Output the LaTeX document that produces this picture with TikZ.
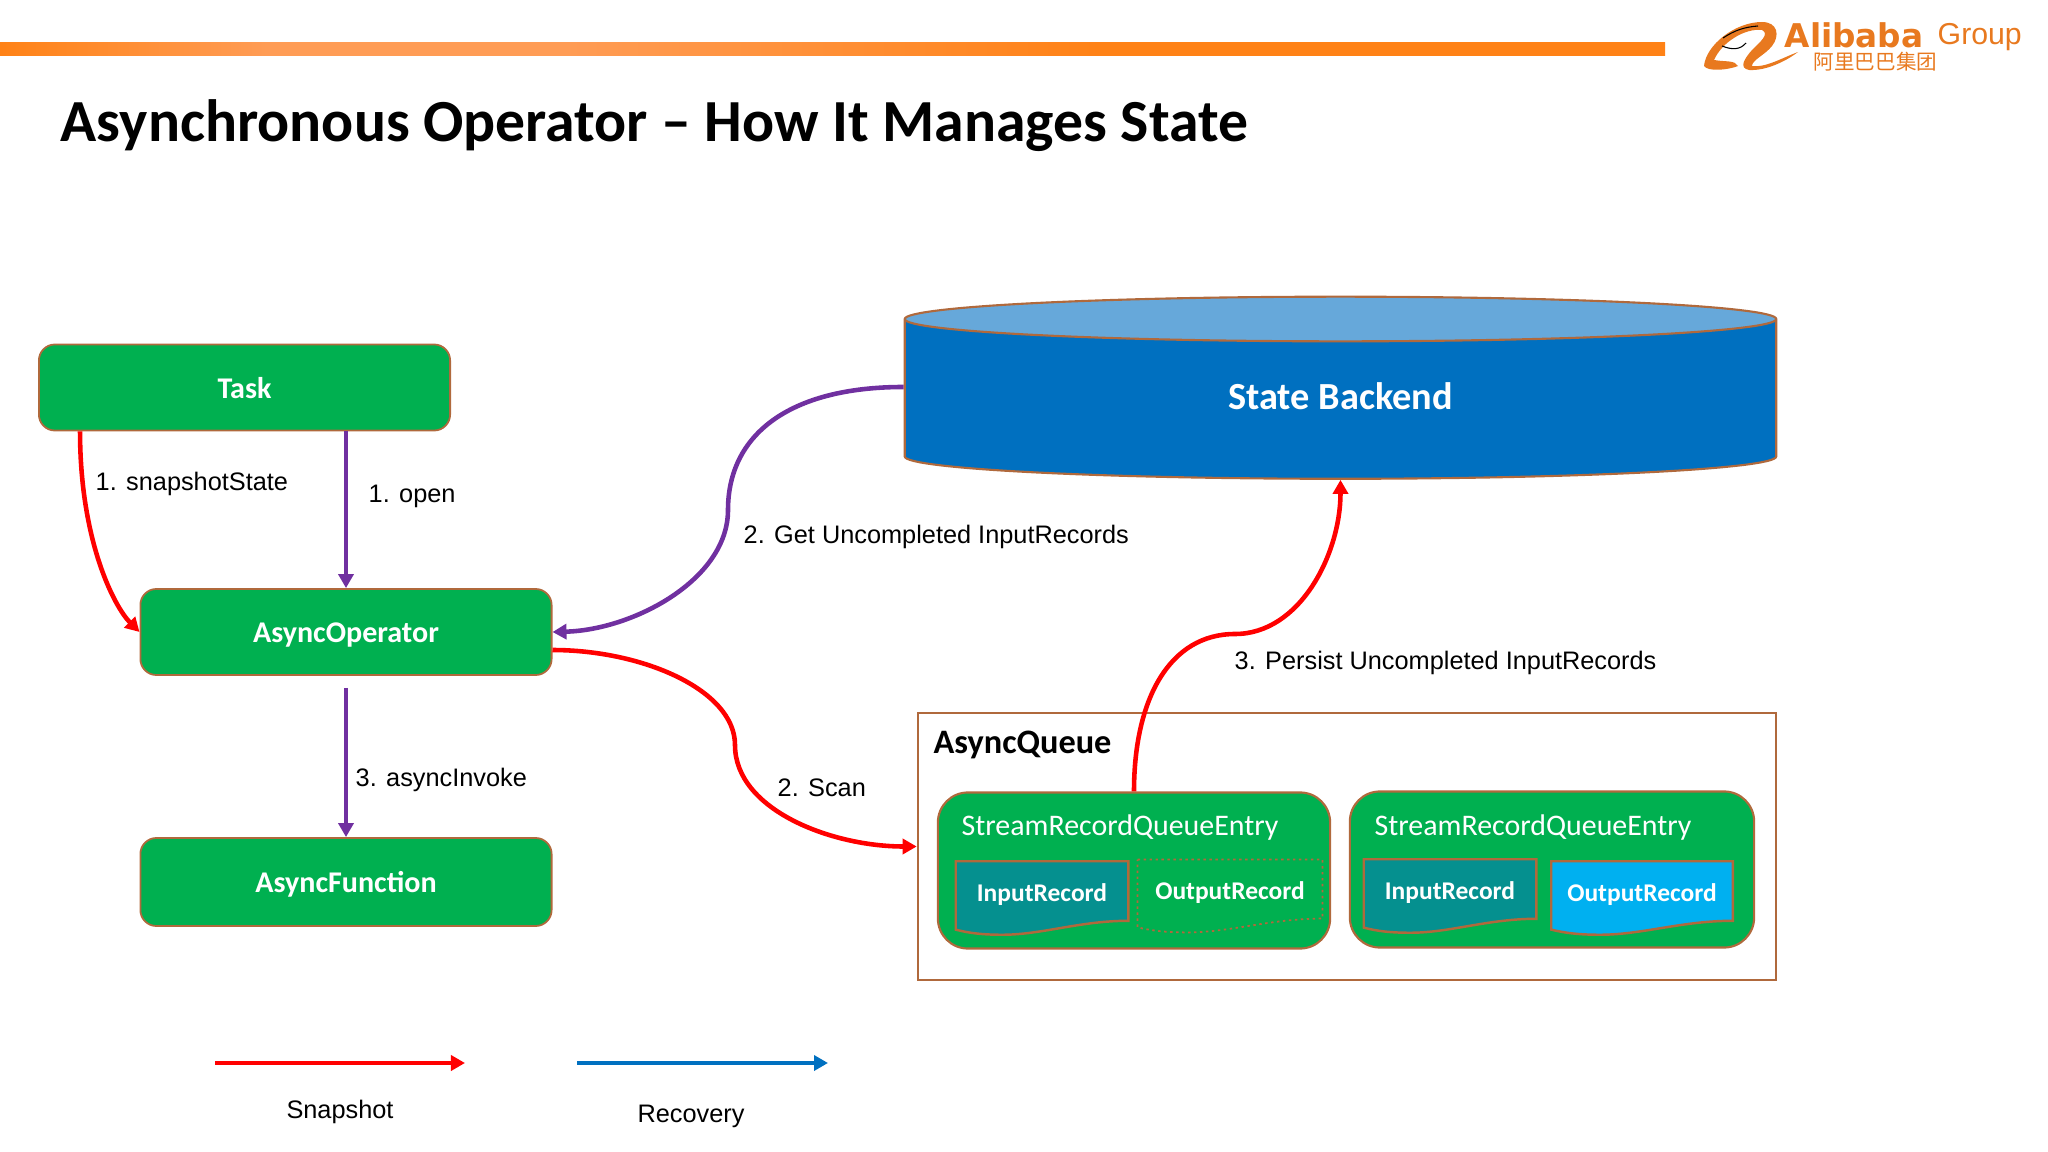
\documentclass[tikz,border=0pt]{standalone}
\usepackage{fontspec}
\setmainfont{Liberation Sans}
\newfontfamily\carlito{Carlito}
\newfontfamily\dejavu{DejaVu Sans}
\newfontfamily\cjk{Noto Sans CJK SC}
\usetikzlibrary{shapes.geometric, arrows.meta}
\definecolor{boxgreen}{HTML}{00B050}
\definecolor{boxedge}{HTML}{B0693C}
\definecolor{recteal}{HTML}{05908F}
\definecolor{recblue}{HTML}{00B0F0}
\definecolor{dbblue}{HTML}{0070C0}
\definecolor{dbtop}{HTML}{66A8DA}
\definecolor{snapred}{HTML}{FF0000}
\definecolor{openpurple}{HTML}{7030A0}
\definecolor{logoorange}{HTML}{E8791F}
\definecolor{barorange}{HTML}{FF8216}
\definecolor{barlight}{HTML}{FF9C55}
\pgfdeclarehorizontalshading{barshade}{100bp}{color(0bp)=(barorange); color(25bp)=(barorange); color(33bp)=(barlight); color(42bp)=(barlight); color(58bp)=(barorange); color(100bp)=(barorange)}
% rectangle whose bottom edge runs as a wave, higher on the right
\newdimen\docL \newdimen\docB \newdimen\docR \newdimen\docT \newdimen\docW \newdimen\docH
\newcommand{\docpt}[2]{\pgfqpoint{\dimexpr\docL+#1\docW\relax}{\dimexpr\docB+#2\docH\relax}}
\makeatletter
\pgfdeclareshape{wavedoc}{
  \inheritsavedanchors[from=rectangle]
  \inheritanchorborder[from=rectangle]
  \inheritanchor[from=rectangle]{center}
  \inheritanchor[from=rectangle]{north}
  \inheritanchor[from=rectangle]{south}
  \inheritanchor[from=rectangle]{east}
  \inheritanchor[from=rectangle]{west}
  \backgroundpath{
    \southwest \docL=\pgf@x \docB=\pgf@y
    \northeast \docR=\pgf@x \docT=\pgf@y
    \docW=\docR \advance\docW by -\docL
    \docH=\docT \advance\docH by -\docB
    \pgfpathmoveto{\docpt{0}{1}}
    \pgfpathlineto{\docpt{1}{1}}
    \pgfpathlineto{\docpt{1}{0.19}}
    \pgfpathcurveto{\docpt{0.72}{0.19}}{\docpt{0.5}{0}}{\docpt{0.27}{0}}
    \pgfpathcurveto{\docpt{0.16}{0}}{\docpt{0.08}{0.02}}{\docpt{0}{0.07}}
    \pgfpathclose
  }
}
\makeatother
\tikzstyle{block} = [rectangle, rounded corners=0.16cm, minimum width=4.11cm, minimum height=0.86cm, text centered, text height=0.21cm, text depth=0pt, draw=boxedge, line width=0.5pt, fill=boxgreen, text=white, font=\carlito\bfseries\fontsize{8.55}{10}\selectfont]
\tikzstyle{entry} = [rectangle, rounded corners=0.3cm, minimum height=1.56cm, draw=boxedge, line width=0.6pt, fill=boxgreen]
\tikzstyle{entrytext} = [anchor=west, inner sep=0pt, text=white, font=\carlito\fontsize{8.5}{10}\selectfont]
\tikzstyle{record} = [wavedoc, inner sep=0pt, text height=0.385cm, text depth=0.325cm, text centered, draw=boxedge, line width=0.7pt, text=white, font=\carlito\bfseries\fontsize{7.25}{8}\selectfont]
\tikzstyle{lbl} = [anchor=west, inner sep=0pt, font=\fontsize{7.2}{9}\selectfont]
\tikzstyle{flow} = [line width=1.3pt, -{Triangle[length=0.14cm,width=0.15cm]}]
\tikzstyle{snap} = [flow, snapred]
\tikzstyle{open} = [flow, openpurple]
\begin{document}
\begin{tikzpicture}[x=0.01cm, y=-0.01cm]
\useasboundingbox (0,0) rectangle (2048,1152);

% header
\shade[shading=barshade] (0,43) rectangle (1665,56);
\node (title) [anchor=west, inner sep=0pt, font=\carlito\bfseries\fontsize{16.98}{20}\selectfont] at (60,126) {Asynchronous Operator – How It Manages State};

% logo
\fill[logoorange] (1704,66) .. controls (1706,45) and (1735,22) .. (1762,22) .. controls (1778,22) and (1780,36) .. (1772,46) .. controls (1765,55) and (1752,60) .. (1752,66) .. controls (1765,68) and (1782,58) .. (1798,52) .. controls (1785,62) and (1765,71) .. (1749,70) .. controls (1738,68) and (1745,58) .. (1752,50) .. controls (1760,42) and (1770,34) .. (1762,30) .. controls (1745,28) and (1722,42) .. (1714,60) .. controls (1725,62) and (1735,60) .. (1738,66) .. controls (1728,70) and (1708,72) .. (1704,66) -- cycle;
\draw[black, line width=0.3pt] (1723,38) .. controls (1735,30) and (1745,27) .. (1758,26);
\draw[black, line width=0.3pt] (1722,46) .. controls (1732,50) and (1740,50) .. (1746,43);
\node (alibaba) [anchor=west, inner sep=0pt, text=logoorange, font=\dejavu\bfseries\fontsize{9.3}{11}\selectfont] at (1784,35) {Alibaba};
\node (group) [anchor=west, inner sep=0pt, text=logoorange, font=\fontsize{8.6}{10}\selectfont] at (1937,37) {Group};
\node (alicn) [anchor=west, inner sep=0pt, text=logoorange, font=\cjk\fontsize{5.85}{7}\selectfont] at (1813,62) {阿里巴巴集团};

% left column
\node (task) [block] at (244.5,387.5) {Task};
\node (op) [block] at (346,632) {AsyncOperator};
\node (func) [block, minimum height=0.88cm] at (346,882) {AsyncFunction};

% state backend
\node (backend) [cylinder, shape border rotate=90, aspect=0.18, minimum width=8.71cm, minimum height=1.82cm, cylinder uses custom fill, cylinder body fill=dbblue, cylinder end fill=dbtop, draw=boxedge, line width=0.6pt, text=white, text depth=0.12cm, font=\carlito\bfseries\fontsize{10.9}{13}\selectfont] at (1340.5,402) {State Backend};

% async queue
\node (queue) [rectangle, minimum width=8.58cm, minimum height=2.67cm, draw=boxedge, line width=0.6pt] at (1347,846.5) {};
\node (queuetext) [anchor=west, inner sep=0pt, font=\carlito\bfseries\fontsize{9.75}{12}\selectfont] at (933,745) {AsyncQueue};
\node (entryA) [entry, minimum width=3.92cm] at (1134,870.5) {};
\node (entryB) [entry, minimum width=4.04cm] at (1552,869.5) {};
\node (entryAtext) [entrytext] at (961,828) {StreamRecordQueueEntry};
\node (entryBtext) [entrytext] at (1374,828) {StreamRecordQueueEntry};
\node (inputA) [record, minimum width=1.70cm, fill=recteal] at (1042,898) {InputRecord};
\node (outputA) [record, minimum width=1.83cm, densely dotted, line width=0.5pt] at (1230,896) {OutputRecord};
\node (inputB) [record, minimum width=1.70cm, fill=recteal] at (1450,896) {InputRecord};
\node (outputB) [record, minimum width=1.79cm, fill=recblue] at (1642,898) {OutputRecord};

% connectors
\draw [snap] ([xshift=0.42cm]task.south west) .. controls +(0,110) and +(-25,-25) .. (op.west);
\draw [open] (task.south -| op.north) -- (op.north);
\draw [open] ([yshift=0.15cm]backend.west) .. controls +(-115,0) and +(0,-75) .. (728,510) .. controls +(0,70) and +(80,-2) .. (op.east);
\draw [snap] ([yshift=-0.18cm]op.east) .. controls +(90,0) and +(0,-55) .. (735,745) .. controls +(0,65) and +(-85,0) .. (queue.west);
\draw [open] ([yshift=-0.12cm]op.south) -- (func.north);
\draw [snap] (entryA.north) .. controls +(0,-93) and +(-65,0) .. (1235,634) .. controls +(65,0) and +(0,74) .. (backend.south);

% legend
\coordinate (snapfrom) at (215,1063);
\coordinate (snapto) at (465,1063);
\coordinate (recfrom) at (577,1063);
\coordinate (recto) at (828,1063);
\draw [snap] (snapfrom) -- (snapto);
\draw [flow, dbblue] (recfrom) -- (recto);
\node (snaptext) [lbl, anchor=center] at (340,1112) {Snapshot};
\node (rectext) [lbl, anchor=center] at (691,1116) {Recovery};

% labels
\node (lblsnap) [lbl] at (95,484) {1. snapshotState};
\node (lblopen) [lbl] at (368,496) {1. open};
\node (lblinvoke) [lbl] at (355,780) {3. asyncInvoke};
\node (lblget) [lbl] at (743,537) {2. Get Uncompleted InputRecords};
\node (lblscan) [lbl] at (777,788) {2. Scan};
\node (lblpersist) [lbl] at (1234,663) {3. Persist Uncompleted InputRecords};

\end{tikzpicture}
\end{document}
